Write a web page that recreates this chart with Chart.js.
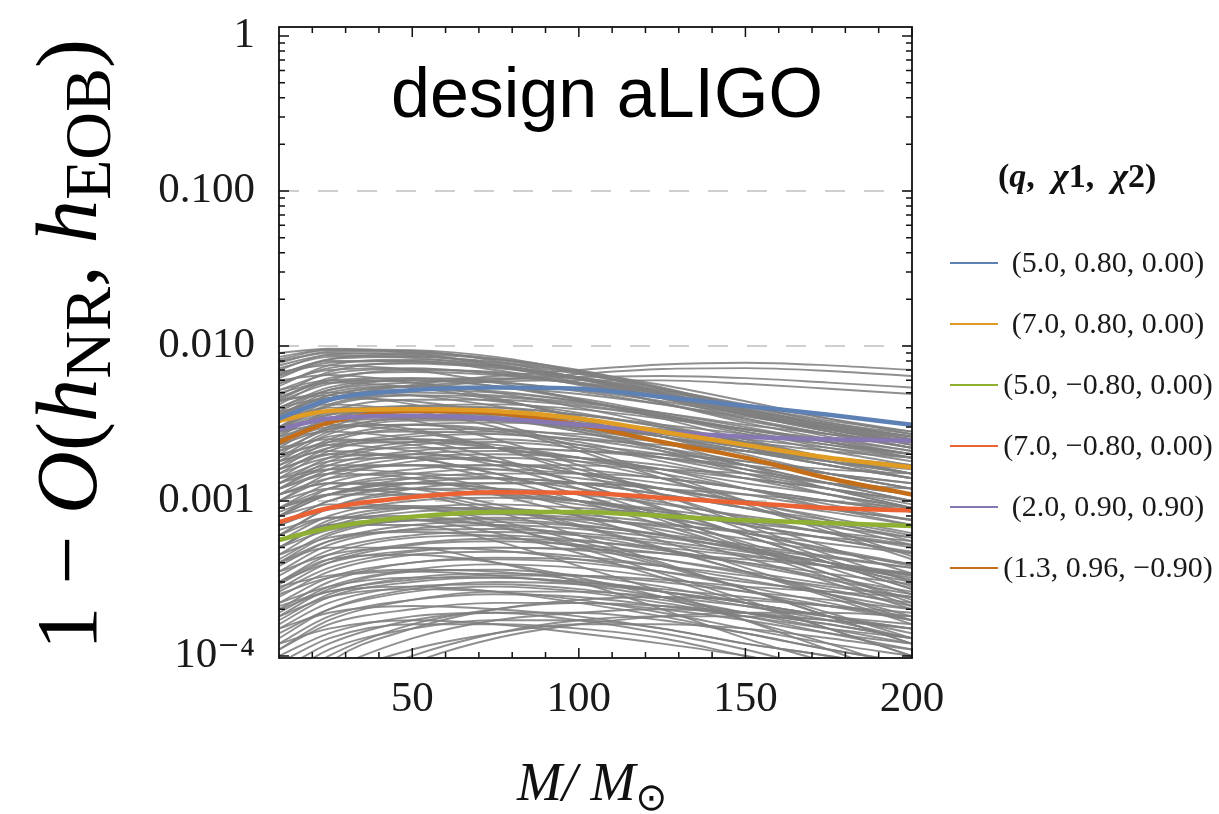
<!DOCTYPE html>
<html><head><meta charset="utf-8">
<script src="https://cdn.jsdelivr.net/npm/chart.js@4.4.1/dist/chart.umd.min.js"></script>
<style>html,body{margin:0;padding:0;background:#fff;overflow:hidden}</style>
</head><body>
<canvas id="c" width="1219" height="814"></canvas>
<script>
// ---------- data ----------
const massGrid = [10, 25, 50, 75, 100, 125, 150, 175, 200];
const xTickValues = [50, 100, 150, 200];
const yTickValues = [1e-4, 1e-3, 1e-2, 0.1, 1];
const yTickLabels = ['10\u207B\u2074', '0.001', '0.010', '0.100', '1'];
const seriesLabels = ['(5.0, 0.80, 0.00)', '(7.0, 0.80, 0.00)', '(5.0, \u22120.80, 0.00)',
                      '(7.0, \u22120.80, 0.00)', '(2.0, 0.90, 0.90)', '(1.3, 0.96, \u22120.90)'];
const seriesColors = ['#5E81B5', '#E19C24', '#8FB032', '#EB6235', '#8778B3', '#C56E1A'];
const seriesOrder = [1, 2, 4, 3, 5, 6];
const blueVals   = [0.0034, 0.0045, 0.0052, 0.0054, 0.0053, 0.0047, 0.0041, 0.0036, 0.0031];
const orangeVals = [0.0033, 0.0038, 0.0039, 0.0038, 0.0034, 0.0028, 0.0023, 0.0019, 0.00165];
const greenVals  = [0.00056, 0.00067, 0.00079, 0.00085, 0.00085, 0.0008, 0.00075, 0.00072, 0.00069];
const redVals    = [0.00073, 0.0009, 0.00106, 0.00114, 0.00113, 0.00105, 0.00097, 0.0009, 0.00087];
const purpleVals = [0.0029, 0.0034, 0.00355, 0.0034, 0.0031, 0.0028, 0.0026, 0.0025, 0.00245];
const brownVals  = [0.0024, 0.0032, 0.0038, 0.0037, 0.0031, 0.0024, 0.0019, 0.0014, 0.0011];
const seriesValues = [blueVals, orangeVals, greenVals, redVals, purpleVals, brownVals];

// other NR cases (grey), values at massGrid
const grayCurves = [
 [0.0085,0.0095,0.0094,0.0085,0.0068,0.0050,0.0037,0.0029,0.0024],
 [0.0078,0.0092,0.0093,0.0080,0.0062,0.0046,0.0034,0.0026,0.0021],
 [0.0070,0.0088,0.0090,0.0083,0.0070,0.0054,0.0040,0.0031,0.0025],
 [0.0062,0.0082,0.0088,0.0082,0.0069,0.0053,0.0038,0.0029,0.0023],
 [0.0055,0.0075,0.0082,0.0076,0.0062,0.0048,0.0036,0.0028,0.0022],
 [0.0048,0.0068,0.0078,0.0074,0.0063,0.0050,0.0039,0.0030,0.0025],
 [0.0090,0.0096,0.0090,0.0075,0.0058,0.0043,0.0032,0.0025,0.0020],
 [0.0066,0.0080,0.0080,0.0070,0.0056,0.0043,0.0033,0.0027,0.0022],
 [0.0042,0.0060,0.0070,0.0068,0.0061,0.0050,0.0038,0.0029,0.0023],
 [0.0075,0.0087,0.0084,0.0074,0.0063,0.0052,0.0041,0.0032,0.0027],
 [0.0058,0.0070,0.0072,0.0066,0.0057,0.0046,0.0036,0.0029,0.0024],
 [0.0038,0.0052,0.0061,0.0062,0.0058,0.0049,0.0039,0.0031,0.0026],
 [0.0032,0.0045,0.0056,0.0064,0.0070,0.0076,0.0078,0.0075,0.0070],
 [0.0030,0.0042,0.0052,0.0060,0.0066,0.0071,0.0072,0.0069,0.0064],
 [0.0040,0.0052,0.0058,0.0061,0.0063,0.0064,0.0062,0.0058,0.0054],
 [0.0036,0.0048,0.0055,0.0059,0.0060,0.0060,0.0057,0.0053,0.0049],
 [0.0045,0.0060,0.0062,0.0055,0.0045,0.0035,0.0027,0.0021,0.0017],
 [0.0036,0.0050,0.0055,0.0051,0.0044,0.0036,0.0029,0.0024,0.0020],
 [0.0030,0.0044,0.0050,0.0048,0.0043,0.0037,0.0031,0.0027,0.0024],
 [0.0026,0.0038,0.0045,0.0045,0.0041,0.0035,0.0029,0.0024,0.0020],
 [0.0022,0.0033,0.0040,0.0040,0.0036,0.0030,0.0024,0.0019,0.0015],
 [0.0020,0.0030,0.0036,0.0036,0.0033,0.0029,0.0025,0.0022,0.0019],
 [0.0018,0.0027,0.0033,0.0033,0.0029,0.0024,0.0019,0.0015,0.0012],
 [0.0016,0.0024,0.0029,0.0029,0.0026,0.0022,0.0018,0.0015,0.0013],
 [0.0014,0.0021,0.0026,0.0027,0.0025,0.0021,0.0017,0.0013,0.0010],
 [0.0012,0.0018,0.0023,0.0024,0.0022,0.0019,0.0016,0.0013,0.0011],
 [0.0011,0.0016,0.0020,0.0021,0.0019,0.0016,0.0012,0.0009,0.0007],
 [0.0010,0.0014,0.0018,0.0019,0.0018,0.0016,0.0014,0.0012,0.0010],
 [0.0028,0.0036,0.0038,0.0034,0.0028,0.0022,0.0017,0.0013,0.0010],
 [0.0033,0.0040,0.0040,0.0035,0.0028,0.0021,0.0015,0.0011,0.00085],
 [0.0024,0.0030,0.0031,0.0028,0.0023,0.0018,0.0014,0.0011,0.0009],
 [0.0050,0.0058,0.0054,0.0045,0.0035,0.0026,0.0019,0.0014,0.0011],
 [0.0040,0.0046,0.0044,0.0037,0.0029,0.0022,0.0016,0.0012,0.0009],
 [0.0060,0.0065,0.0058,0.0046,0.0034,0.0024,0.0017,0.0012,0.0009],
 [0.0019,0.0024,0.0025,0.0022,0.0018,0.0014,0.0010,0.00075,0.00055],
 [0.0015,0.0019,0.0020,0.0018,0.0015,0.0012,0.0009,0.0007,0.00052],
 [0.0009,0.0012,0.0014,0.0014,0.0013,0.0011,0.0009,0.00075,0.0006],
 [0.0008,0.0011,0.0013,0.0012,0.0010,0.0008,0.00062,0.00048,0.00038],
 [0.0007,0.0010,0.0012,0.0012,0.0011,0.00095,0.0008,0.00068,0.00058],
 [0.0006,0.0009,0.0011,0.0011,0.0010,0.00085,0.0007,0.00057,0.00047],
 [0.0005,0.00075,0.0009,0.0009,0.0008,0.00065,0.0005,0.0004,0.00031],
 [0.00045,0.00068,0.00085,0.00088,0.00082,0.00072,0.00062,0.00053,0.00046],
 [0.0004,0.0006,0.00075,0.00076,0.0007,0.0006,0.00049,0.0004,0.00033],
 [0.00035,0.00052,0.00066,0.0007,0.00066,0.00058,0.0005,0.00043,0.00037],
 [0.0003,0.00045,0.00058,0.0006,0.00056,0.00048,0.0004,0.00032,0.00026],
 [0.00027,0.0004,0.00052,0.00055,0.00052,0.00046,0.0004,0.00034,0.00029],
 [0.00024,0.00035,0.00045,0.00047,0.00044,0.00038,0.00031,0.00025,0.0002],
 [0.0002,0.0003,0.0004,0.00042,0.0004,0.00035,0.0003,0.00026,0.00022],
 [0.00018,0.00027,0.00035,0.00036,0.00033,0.00028,0.00022,0.00018,0.00014],
 [0.00016,0.00024,0.0003,0.00032,0.0003,0.00026,0.00022,0.00018,0.00015],
 [0.00014,0.0002,0.00026,0.00028,0.00026,0.00022,0.00018,0.00014,0.00011],
 [0.00012,0.00018,0.00023,0.00025,0.00024,0.00021,0.00018,0.00015,0.00013],
 [0.00006,0.0001,0.00016,0.0002,0.00022,0.00021,0.00019,0.00016,0.00013],
 [0.00005,0.00008,0.00013,0.00017,0.00019,0.0002,0.00019,0.00017,0.00015],
 [0.00008,0.00012,0.00017,0.00019,0.00019,0.00017,0.00014,0.00011,0.00009],
 [0.00004,0.00007,0.00011,0.00014,0.00016,0.00016,0.00015,0.00013,0.00011],
 [0.0001,0.00014,0.00018,0.00019,0.00017,0.00014,0.00011,0.00008,0.00006],
 [0.0012,0.0015,0.0014,0.0011,0.0008,0.00055,0.00037,0.00025,0.00017],
 [0.0010,0.0012,0.0011,0.00085,0.0006,0.0004,0.00027,0.00018,0.00012],
 [0.0016,0.0020,0.0019,0.0015,0.0011,0.00075,0.0005,0.00034,0.00023],
 [0.0025,0.0028,0.0025,0.0019,0.0013,0.0009,0.0006,0.0004,0.00027],
 [0.0007,0.0009,0.0009,0.0007,0.0005,0.00034,0.00023,0.00015,0.0001],
 [0.0005,0.0007,0.0007,0.00055,0.00038,0.00026,0.00017,0.00011,0.00007],
 [0.0035,0.0038,0.0033,0.0025,0.0017,0.0011,0.0007,0.00045,0.0003],
 [0.0004,0.0005,0.0005,0.0004,0.0003,0.0002,0.00013,0.00009,0.00006],
 [0.0003,0.00042,0.00045,0.0004,0.00032,0.00024,0.00017,0.00012,0.00008],
 [0.002,0.0023,0.0021,0.0017,0.0012,0.0008,0.00052,0.00034,0.00022],
 [0.0013,0.0017,0.0017,0.0014,0.0010,0.0007,0.00048,0.00032,0.00021],
 [0.0009,0.0011,0.0011,0.0009,0.00068,0.00049,0.00035,0.00025,0.00018],
 [0.0006,0.00078,0.0008,0.00068,0.00052,0.00038,0.00027,0.00019,0.00013],
 [0.0017,0.0022,0.0024,0.0022,0.0019,0.0016,0.0013,0.0011,0.0009],
 [0.0013,0.0016,0.0017,0.0016,0.0014,0.0012,0.001,0.00085,0.0007],
 [0.0011,0.0013,0.0013,0.0012,0.001,0.00085,0.0007,0.00057,0.00046],
 [0.00028,0.00033,0.00036,0.00035,0.00031,0.00026,0.00021,0.00017,0.00013],
 [0.00022,0.00028,0.00032,0.00032,0.0003,0.00027,0.00024,0.00021,0.00018],
 [0.00015,0.00019,0.00021,0.0002,0.00018,0.00015,0.00012,0.0001,0.00008],
 [0.0004,0.00055,0.00065,0.00066,0.00062,0.00055,0.00047,0.0004,0.00034],
 [0.0025,0.0034,0.0039,0.0038,0.0034,0.0028,0.0022,0.0017,0.0014],
 [0.0019,0.0028,0.0034,0.0034,0.0031,0.0026,0.0021,0.0017,0.0014],
 [0.0008,0.0011,0.0014,0.0015,0.0015,0.0014,0.0012,0.001,0.00085],
 [0.0080,0.0090,0.0087,0.0076,0.0061,0.0047,0.0036,0.0028,0.0022],
 [0.0072,0.0085,0.0086,0.0078,0.0066,0.0053,0.0042,0.0034,0.0028],
 [0.0064,0.0078,0.0080,0.0073,0.0061,0.0049,0.0039,0.0031,0.0026],
 [0.0057,0.0072,0.0077,0.0072,0.0062,0.0051,0.0041,0.0033,0.0028],
 [0.0052,0.0066,0.0071,0.0067,0.0058,0.0047,0.0037,0.0030,0.0024],
 [0.0046,0.0062,0.0068,0.0065,0.0057,0.0047,0.0038,0.0031,0.0026],
 [0.0044,0.0057,0.0062,0.0059,0.0051,0.0042,0.0034,0.0027,0.0022],
 [0.0040,0.0054,0.0060,0.0058,0.0052,0.0044,0.0036,0.0030,0.0025],
 [0.0035,0.0048,0.0055,0.0054,0.0049,0.0042,0.0035,0.0029,0.0024],
 [0.0033,0.0046,0.0052,0.0050,0.0044,0.0036,0.0028,0.0022,0.0018],
 [0.0029,0.0041,0.0048,0.0047,0.0042,0.0035,0.0028,0.0023,0.0019],
 [0.0027,0.0036,0.0041,0.0040,0.0036,0.0031,0.0027,0.0023,0.0020],
 [0.0023,0.0034,0.0041,0.0042,0.0039,0.0034,0.0029,0.0025,0.0021],
 [0.0021,0.0029,0.0034,0.0034,0.0031,0.0026,0.0021,0.0017,0.0014],
 [0.0068,0.0075,0.0070,0.0058,0.0045,0.0034,0.0025,0.0019,0.0015],
 [0.0052,0.0060,0.0058,0.0050,0.0040,0.0031,0.0024,0.0018,0.0014],
 [0.0044,0.0050,0.0048,0.0041,0.0033,0.0026,0.0020,0.0015,0.0012],
 [0.0030,0.0038,0.0040,0.0037,0.0032,0.0027,0.0022,0.0018,0.0015],
 [0.0017,0.0025,0.0031,0.0032,0.0030,0.0026,0.0022,0.0018,0.0015],
 [0.0015,0.0022,0.0027,0.0028,0.0027,0.0024,0.0021,0.0018,0.0016],
 [0.0013,0.0019,0.0024,0.0025,0.0023,0.0020,0.0016,0.0013,0.0011],
 [0.0012,0.0017,0.0021,0.0022,0.0021,0.0019,0.0017,0.0015,0.0013],
 [0.0010,0.0015,0.0019,0.0020,0.0019,0.0017,0.0014,0.0012,0.0010],
 [0.0009,0.0013,0.0016,0.0017,0.0016,0.0014,0.0012,0.0010,0.00085],
 [0.0008,0.0012,0.0015,0.0016,0.0015,0.0013,0.0011,0.0009,0.00075],
 [0.0007,0.0010,0.0013,0.0014,0.0013,0.0011,0.0009,0.00072,0.00058],
 [0.0006,0.0009,0.0012,0.0013,0.0013,0.0012,0.0010,0.00088,0.00076],
 [0.00055,0.0008,0.001,0.00105,0.001,0.00088,0.00075,0.00062,0.00052],
 [0.0005,0.00072,0.0009,0.00095,0.0009,0.00082,0.00072,0.00063,0.00055],
 [0.00042,0.00062,0.00078,0.00082,0.00078,0.00068,0.00057,0.00047,0.00039],
 [0.00038,0.00055,0.0007,0.00073,0.00069,0.00061,0.00052,0.00044,0.00037],
 [0.00033,0.00048,0.0006,0.00063,0.0006,0.00053,0.00045,0.00038,0.00032],
 [0.00029,0.00042,0.00053,0.00057,0.00055,0.0005,0.00044,0.00038,0.00033],
 [0.00026,0.00037,0.00047,0.0005,0.00048,0.00042,0.00035,0.00029,0.00024],
 [0.00022,0.00032,0.0004,0.00043,0.00042,0.00038,0.00033,0.00028,0.00024],
 [0.00019,0.00028,0.00036,0.00039,0.00037,0.00032,0.00026,0.00021,0.00017],
 [0.00017,0.00025,0.00032,0.00034,0.00033,0.0003,0.00026,0.00023,0.0002],
 [0.00013,0.0002,0.00027,0.0003,0.00029,0.00026,0.00022,0.00018,0.00015],
 [0.00011,0.00017,0.00023,0.00026,0.00026,0.00024,0.00021,0.00018,0.00016],
 [0.0030,0.0033,0.0029,0.0022,0.0015,0.0010,0.00065,0.00042,0.00028],
 [0.0022,0.0025,0.0023,0.0018,0.0013,0.00088,0.0006,0.0004,0.00027],
 [0.0018,0.0021,0.0019,0.0015,0.0011,0.00078,0.00054,0.00037,0.00025],
 [0.0014,0.0016,0.0015,0.0012,0.00088,0.00062,0.00043,0.0003,0.0002],
 [0.0011,0.0013,0.0012,0.00095,0.0007,0.0005,0.00035,0.00024,0.00016],
 [0.0008,0.00095,0.00092,0.00075,0.00055,0.00039,0.00027,0.00018,0.00012],
 [0.00065,0.00078,0.00076,0.00062,0.00046,0.00032,0.00022,0.00015,0.0001],
 [0.0028,0.0031,0.0028,0.0022,0.0016,0.0011,0.00075,0.0005,0.00034],
 [0.0045,0.0048,0.0042,0.0032,0.0022,0.0015,0.001,0.00066,0.00044],
 [0.0038,0.0042,0.0038,0.003,0.0021,0.0014,0.00095,0.00063,0.00042],
 [0.00003,0.00006,0.0001,0.00014,0.00017,0.00018,0.00018,0.00017,0.00015],
 [0.00007,0.00011,0.00015,0.00017,0.00017,0.00015,0.00012,0.0001,0.00008],
 [0.00009,0.00013,0.00016,0.00016,0.00015,0.00013,0.0001,0.00008,0.00006],
 [0.00012,0.00015,0.00017,0.00016,0.00014,0.00012,0.0001,0.00008,0.00007],
 [0.00015,0.00022,0.00028,0.00029,0.00027,0.00023,0.00019,0.00016,0.00013],
 [0.00018,0.00024,0.00027,0.00026,0.00023,0.00019,0.00015,0.00012,0.0001],
 [0.00021,0.00026,0.00028,0.00026,0.00022,0.00018,0.00014,0.00011,0.00009],
 [0.00025,0.00032,0.00035,0.00033,0.00029,0.00024,0.00019,0.00015,0.00012],
 [0.00011,0.00016,0.0002,0.00022,0.00022,0.0002,0.00017,0.00014,0.00012],
 [0.00002,0.00005,0.00009,0.00013,0.00016,0.00018,0.00019,0.00019,0.00018],
 [0.00004,0.00009,0.00015,0.0002,0.00023,0.00024,0.00023,0.00021,0.00019],
 [0.00035,0.00045,0.0005,0.00048,0.00042,0.00035,0.00028,0.00022,0.00017],
 [0.00045,0.00058,0.00063,0.00059,0.00051,0.00042,0.00034,0.00027,0.00021],
 [0.00055,0.0007,0.00075,0.0007,0.0006,0.00049,0.00039,0.00031,0.00025],
 [0.0007,0.00088,0.00093,0.00086,0.00074,0.0006,0.00048,0.00038,0.0003],
 [0.00085,0.0011,0.0012,0.0011,0.00095,0.00078,0.00062,0.00049,0.00039],
 [0.0011,0.0014,0.0015,0.0014,0.0012,0.00098,0.00078,0.00062,0.0005],
 [0.0014,0.0018,0.0019,0.0018,0.0015,0.0012,0.00098,0.00078,0.00062],
 [0.0018,0.0023,0.0025,0.0023,0.0019,0.0015,0.0012,0.00095,0.00075],
 [0.0023,0.0029,0.0031,0.0029,0.0024,0.0019,0.0015,0.0012,0.00095],
 [0.0029,0.0037,0.0039,0.0036,0.003,0.0024,0.0019,0.0015,0.0012],
 [0.0037,0.0046,0.0048,0.0044,0.0037,0.003,0.0024,0.0019,0.0015],
 [0.0047,0.0058,0.006,0.0055,0.0046,0.0037,0.003,0.0024,0.0019],
 [0.0065,0.0082,0.0085,0.0079,0.0068,0.0056,0.0044,0.0034,0.0027],
 [0.0082,0.0094,0.0092,0.0082,0.0067,0.0053,0.0041,0.0032,0.0026],
 [0.0026,0.0032,0.0034,0.0033,0.003,0.0027,0.0024,0.0021,0.0019],
 [0.0021,0.0026,0.0028,0.0027,0.0025,0.0023,0.0021,0.0019,0.0017],
 [0.0016,0.002,0.0022,0.0022,0.0021,0.002,0.0018,0.0016,0.0015],
 [0.0012,0.0015,0.0017,0.0017,0.0017,0.0016,0.0015,0.0013,0.0012],
 [0.0009,0.0011,0.0013,0.0013,0.0013,0.0012,0.0011,0.001,0.0009],
 [0.0005,0.00065,0.00075,0.00078,0.00076,0.0007,0.00064,0.00058,0.00052],
 [0.0003,0.0004,0.00048,0.0005,0.00049,0.00046,0.00042,0.00038,0.00034],
 [0.0002,0.00026,0.00031,0.00033,0.00033,0.00031,0.00028,0.00026,0.00024]
];

// ---------- build datasets ----------
const toPts = vals => vals.map((v, i) => ({x: massGrid[i], y: v}));
const datasets = [];
seriesValues.forEach((vals, i) => {
  datasets.push({label: seriesLabels[i], data: toPts(vals), borderColor: seriesColors[i],
    borderWidth: 4.5, pointRadius: 0, cubicInterpolationMode: 'monotone', order: seriesOrder[i], isMain: true});
});
grayCurves.forEach((vals, i) => {
  datasets.push({label: 'nr' + i, data: toPts(vals), borderColor: 'rgba(128,128,128,0.88)',
    borderWidth: 1.9, pointRadius: 0, cubicInterpolationMode: 'monotone', order: 100});
});

const SERIF = '"Liberation Serif", "DejaVu Serif", serif';
const SANS = '"Liberation Sans", Arial, sans-serif';

function drawPieces(ctx, pieces, x, y) {
  let cx = x;
  pieces.forEach(p => {
    ctx.font = p.font;
    ctx.fillText(p.t, cx, y + (p.dy || 0));
    cx += ctx.measureText(p.t).width + (p.gap || 0);
  });
  return cx - x;
}

const decorPlugin = {
  id: 'decor',
  beforeDatasetsDraw(chart) {
    const ctx = chart.ctx, a = chart.chartArea, ys = chart.scales.y;
    ctx.save();
    ctx.strokeStyle = '#cfcfcf';
    ctx.lineWidth = 2;
    ctx.setLineDash([20, 19]);
    [0.1, 0.01, 0.001].forEach(v => {
      const py = Math.round(ys.getPixelForValue(v));
      ctx.beginPath(); ctx.moveTo(a.left, py); ctx.lineTo(a.right, py); ctx.stroke();
    });
    ctx.restore();
  },
  afterDraw(chart) {
    const ctx = chart.ctx, a = chart.chartArea, xs = chart.scales.x, ys = chart.scales.y;
    ctx.save();
    // frame
    ctx.strokeStyle = '#111'; ctx.lineWidth = 1.8;
    ctx.strokeRect(a.left, a.top, a.right - a.left, a.bottom - a.top);
    // y ticks (left & right, inward)
    ctx.lineWidth = 1.5;
    for (let e = -4; e <= 0; e++) {
      for (let m = 1; m <= 9; m++) {
        const v = m * Math.pow(10, e);
        if (v > 1.0001) continue;
        const py = ys.getPixelForValue(v);
        if (py < a.top || py > a.bottom) continue;
        const len = m === 1 ? 10 : 6;
        ctx.beginPath();
        ctx.moveTo(a.left, py); ctx.lineTo(a.left + len, py);
        ctx.moveTo(a.right, py); ctx.lineTo(a.right - len, py);
        ctx.stroke();
      }
    }
    // x ticks (bottom & top, inward)
    for (let v = 20; v <= 200; v += 10) {
      const px = xs.getPixelForValue(v);
      const len = v % 50 === 0 ? 10 : 6;
      ctx.beginPath();
      ctx.moveTo(px, a.bottom); ctx.lineTo(px, a.bottom - len);
      ctx.moveTo(px, a.top); ctx.lineTo(px, a.top + len);
      ctx.stroke();
    }
    // panel label
    ctx.fillStyle = '#000';
    ctx.textBaseline = 'alphabetic';
    ctx.textAlign = 'left';
    ctx.font = '70px ' + SANS;
    ctx.fillText('design aLIGO', 391, 117);

    // y axis title (rotated)
    ctx.save();
    ctx.translate(96, 650);
    ctx.rotate(-Math.PI / 2);
    ctx.fillStyle = '#000';
    const big = '87px ' + SERIF, bigI = 'italic 87px ' + SERIF, sub = '66px ' + SERIF;
    drawPieces(ctx, [
      {t: '1 \u2212 ', font: big},
      {t: 'O', font: bigI},
      {t: '(', font: big},
      {t: 'h', font: bigI},
      {t: 'NR', font: sub, dy: 14},
      {t: ', ', font: big},
      {t: 'h', font: bigI},
      {t: 'EOB', font: sub, dy: 14},
      {t: ')', font: big}
    ], 0, 0);
    ctx.restore();

    // x axis title
    ctx.fillStyle = '#111';
    drawPieces(ctx, [
      {t: 'M', font: 'italic 54px ' + SERIF},
      {t: '/ ', font: 'italic 54px ' + SERIF},
      {t: 'M', font: 'italic 54px ' + SERIF},
      {t: '\u2299', font: '38px "DejaVu Sans", sans-serif', dy: 10}
    ], 517, 800);

    // legend title
    const lt = 'bold 34px ' + SERIF, ltI = 'bold italic 34px ' + SERIF;
    drawPieces(ctx, [
      {t: '(', font: lt}, {t: 'q', font: ltI}, {t: ',', font: lt, gap: 18},
      {t: '\u03C7', font: ltI}, {t: '1', font: lt}, {t: ',', font: lt, gap: 18},
      {t: '\u03C7', font: ltI}, {t: '2', font: lt}, {t: ')', font: lt}
    ], 998, 187);

    // legend entries
    ctx.textAlign = 'center';
    ctx.textBaseline = 'middle';
    ctx.font = '30px ' + SERIF;
    chart.data.datasets.filter(d => d.isMain).forEach((d, i) => {
      const py = 263 + i * 61;
      ctx.strokeStyle = d.borderColor; ctx.lineWidth = 2;
      ctx.beginPath(); ctx.moveTo(950, py); ctx.lineTo(998, py); ctx.stroke();
      ctx.fillStyle = '#1a1a1a';
      ctx.fillText(d.label, 1108, py + 1);
    });
    ctx.restore();
  }
};

new Chart(document.getElementById('c'), {
  type: 'line',
  data: {datasets},
  plugins: [decorPlugin],
  options: {
    responsive: false,
    animation: false,
    devicePixelRatio: 1,
    layout: {padding: {left: 0, top: 27, right: 307, bottom: 0}},
    plugins: {legend: {display: false}, tooltip: {enabled: false}},
    scales: {
      x: {
        type: 'linear', min: 10, max: 200,
        grid: {display: false}, border: {display: false},
        afterBuildTicks: s => { s.ticks = xTickValues.map(v => ({value: v})); },
        afterFit: s => { s.height = 156; s.paddingLeft = 0; s.paddingRight = 0; },
        ticks: {font: {family: SERIF, size: 43}, color: '#1a1a1a', padding: 8,
                maxRotation: 0, autoSkip: false}
      },
      y: {
        type: 'logarithmic', min: 0.97e-4, max: 1.143,
        grid: {display: false}, border: {display: false},
        afterBuildTicks: s => { s.ticks = yTickValues.map(v => ({value: v})); },
        afterFit: s => { s.width = 279; s.paddingTop = 0; s.paddingBottom = 0; },
        ticks: {font: {family: SERIF, size: 43}, color: '#1a1a1a', padding: 16, autoSkip: false,
                callback: (v, i) => yTickLabels[i]}
      }
    }
  }
});
</script>
</body></html>
